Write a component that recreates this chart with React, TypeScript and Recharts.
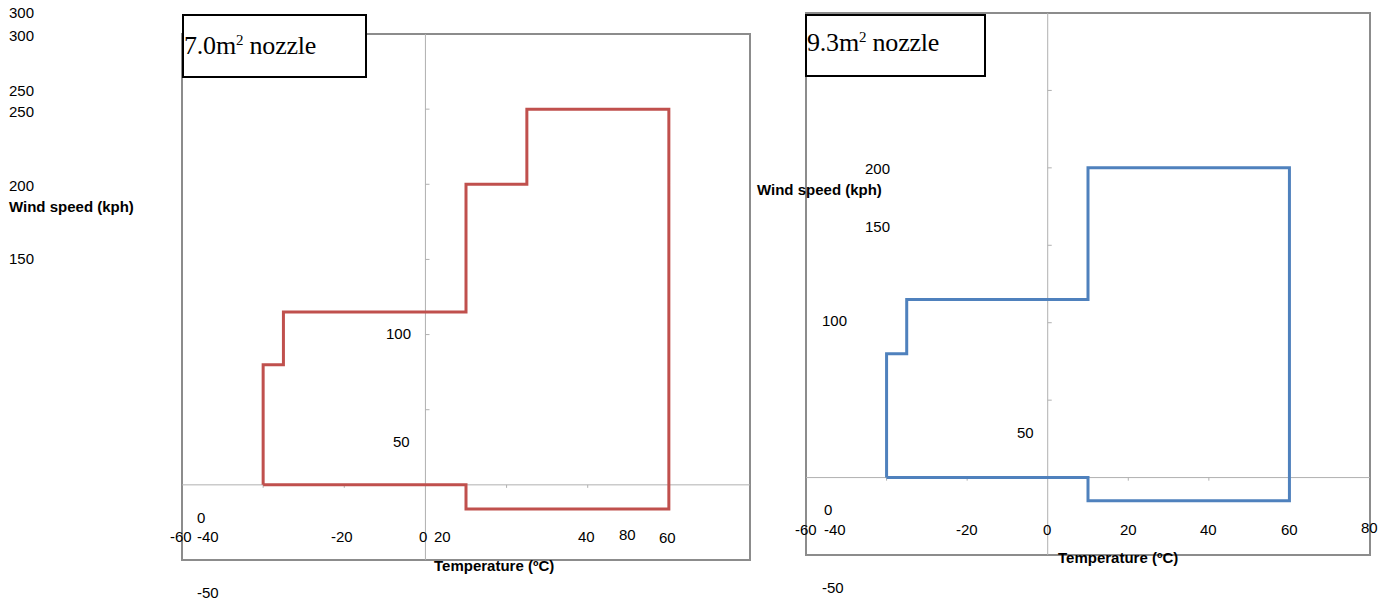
import { Line, LineChart, ReferenceArea, ReferenceLine, XAxis, YAxis } from "recharts";

// operating envelopes (temperature °C, wind speed kph)
const nozzle70Temp = [-40, -40, -35, -35, 10, 10, 25, 25, 60, 60, 10, 10, -40];
const nozzle70Speed = [0, 80, 80, 115, 115, 200, 200, 250, 250, -16, -16, 0, 0];
const nozzle93Temp = [-40, -40, -35, -35, 10, 10, 60, 60, 10, 10, -40];
const nozzle93Speed = [0, 80, 80, 115, 115, 200, 200, -15, -15, 0, 0];

const TEMP_DOMAIN = [-60, 80];
const SPEED_DOMAIN = [-50, 300];
const TEMP_TICKS = [-60, -40, -20, 0, 20, 40, 60, 80];
const SPEED_TICKS = [-50, 0, 50, 100, 150, 200, 250, 300];
const TEMP_MINOR = [-40, -20, 20, 40, 60];
const SPEED_MINOR = [50, 100, 150, 200, 250];

// tick labels as they sit in the (shuffled) source figure
const leftSpeedLabels = ["300", "300", "250", "250", "200", "150", "100", "50", "0", "-50"];
const leftTempLabels = ["-60", "-40", "-20", "0", "20", "40", "80", "60"];
const rightSpeedLabels = ["200", "150", "100", "50", "0", "-50"];
const rightTempLabels = ["-60", "-40", "-20", "0", "20", "40", "60", "80"];

const leftSpeedPos = [[9, 12.5], [9, 35], [9, 90.5], [9, 111], [9, 185.5], [9, 258], [386, 333], [393, 441], [197, 517], [197, 592]];
const leftTempPos = [[170, 536], [197, 536], [331, 536], [419, 536], [434, 536], [578, 536], [619, 534], [659, 537]];
const rightSpeedPos = [[865, 168], [865, 226], [822, 320], [1017, 432.5], [824, 509], [822, 587]];
const rightTempPos = [[795, 529], [824, 529], [956, 529], [1043, 529], [1120, 529], [1200, 529], [1281, 529], [1361, 527]];

const PAD = 6;
const SANS = '"Liberation Sans", Arial, sans-serif';
const SERIF = '"Liberation Serif", "Times New Roman", serif';

type PanelProps = {
  temps: number[];
  speeds: number[];
  color: string;
  x: number;
  y: number;
  w: number;
  h: number;
};

function Panel({ temps, speeds, color, x, y, w, h }: Readonly<PanelProps>) {
  const data = temps.map((t, i) => ({ temp: t, speed: speeds[i] }));
  return (
    <div style={{ position: "absolute", left: x - PAD, top: y - PAD }}>
      <LineChart
        width={w + 2 * PAD}
        height={h + 2 * PAD}
        data={data}
        margin={{ top: PAD, right: PAD, bottom: PAD, left: PAD }}
      >
        <XAxis type="number" dataKey="temp" domain={TEMP_DOMAIN} ticks={TEMP_TICKS} allowDataOverflow hide />
        <YAxis type="number" domain={SPEED_DOMAIN} ticks={SPEED_TICKS} allowDataOverflow hide />
        <ReferenceArea x1={-60} x2={80} y1={-50} y2={300} fill="none" stroke="#8c8c8c" strokeWidth={2} />
        <ReferenceLine x={0} stroke="#b0b0b0" />
        <ReferenceLine y={0} stroke="#b0b0b0" />
        {TEMP_MINOR.map((t) => (
          <ReferenceLine key={"t" + t} segment={[{ x: t, y: 0 }, { x: t, y: -2 }]} stroke="#b0b0b0" />
        ))}
        {SPEED_MINOR.map((s) => (
          <ReferenceLine key={"s" + s} segment={[{ x: 0, y: s }, { x: 1, y: s }]} stroke="#b0b0b0" />
        ))}
        <Line
          type="linear"
          dataKey="speed"
          stroke={color}
          strokeWidth={3}
          dot={false}
          isAnimationActive={false}
        />
      </LineChart>
    </div>
  );
}

function Label({ text, at, bold }: { text: string; at: number[]; bold?: boolean }) {
  return (
    <div
      style={{
        position: "absolute",
        left: at[0],
        top: at[1] - 7.5,
        fontFamily: SANS,
        fontSize: 15,
        lineHeight: "15px",
        fontWeight: bold ? "bold" : "normal",
        whiteSpace: "nowrap",
        color: "#000",
      }}
    >
      {text}
    </div>
  );
}

type TitleProps = { label: string; x: number; y: number; w: number; h: number; padTop: number };

function TitleBox({ label, x, y, w, h, padTop }: Readonly<TitleProps>) {
  return (
    <div
      style={{
        position: "absolute",
        left: x,
        top: y,
        width: w,
        height: h,
        boxSizing: "border-box",
        border: "2px solid #000",
        background: "#fff",
        fontFamily: SERIF,
        fontSize: 26,
        lineHeight: "26px",
        paddingTop: padTop,
        paddingLeft: 0,
        whiteSpace: "nowrap",
        color: "#000",
        letterSpacing: -0.2,
      }}
    >
      {label}m<sup style={{ fontSize: 15, lineHeight: 0, verticalAlign: 9 }}>2</sup> nozzle
    </div>
  );
}

export default function App() {
  return (
    <div style={{ position: "absolute", left: 0, top: 0, width: 1388, height: 602, background: "#fff" }}>
      <Panel temps={nozzle70Temp} speeds={nozzle70Speed} color="#c0504d" x={182} y={34} w={568} h={526} />
      <Panel temps={nozzle93Temp} speeds={nozzle93Speed} color="#4f81bd" x={806} y={13} w={564} h={542} />

      <TitleBox label="7.0" x={182} y={14} w={185} h={64} padTop={17} />
      <TitleBox label="9.3" x={805} y={14} w={181} h={63} padTop={14} />

      {leftSpeedLabels.map((s, i) => (
        <Label key={"ls" + i} text={s} at={leftSpeedPos[i]} />
      ))}
      {leftTempLabels.map((s, i) => (
        <Label key={"lt" + i} text={s} at={leftTempPos[i]} />
      ))}
      <Label text="Wind speed (kph)" at={[9, 206]} bold />
      <Label text="Temperature (ºC)" at={[434, 565]} bold />

      {rightSpeedLabels.map((s, i) => (
        <Label key={"rs" + i} text={s} at={rightSpeedPos[i]} />
      ))}
      {rightTempLabels.map((s, i) => (
        <Label key={"rt" + i} text={s} at={rightTempPos[i]} />
      ))}
      <Label text="Wind speed (kph)" at={[757, 189]} bold />
      <Label text="Temperature (ºC)" at={[1058, 557]} bold />
    </div>
  );
}
